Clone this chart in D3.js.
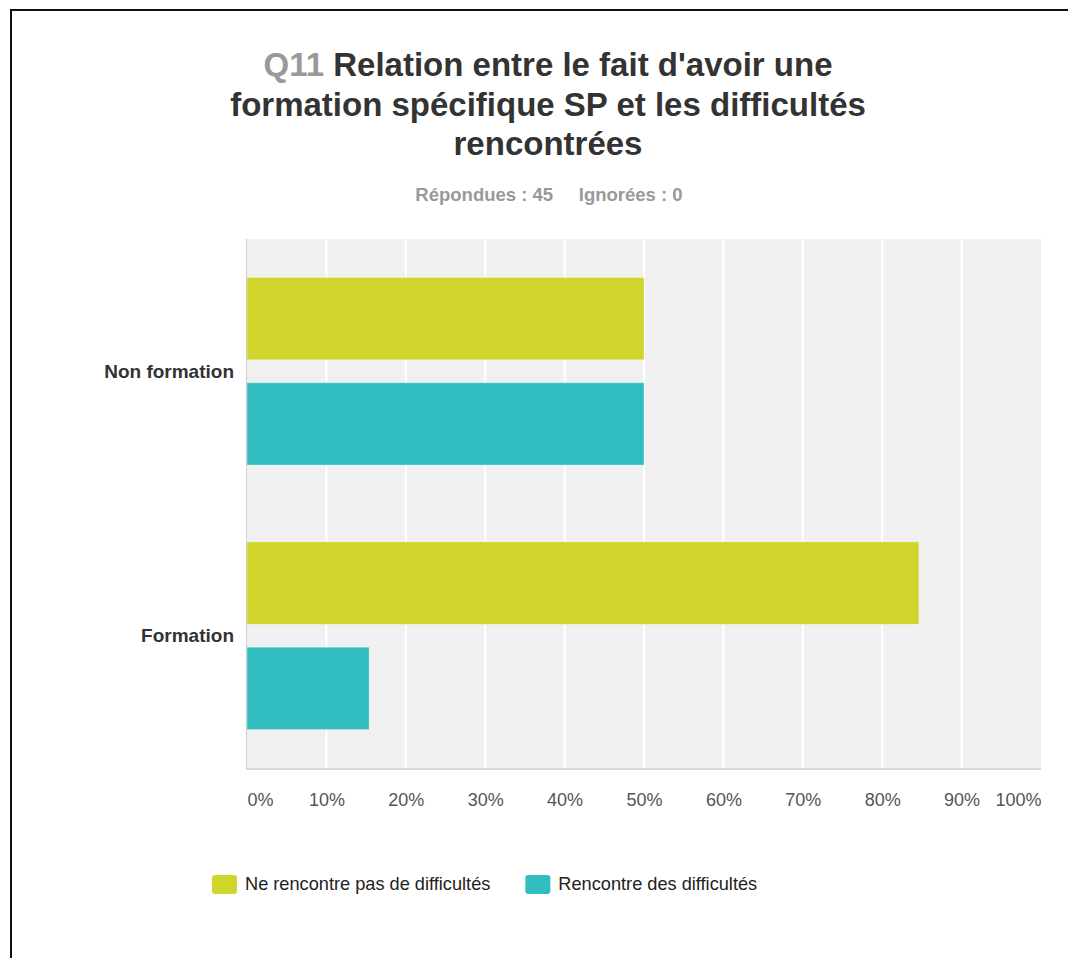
<!DOCTYPE html>
<html>
<head>
<meta charset="utf-8">
<script src="https://cdn.jsdelivr.net/npm/d3@7"></script>
<style>
  html, body { margin: 0; padding: 0; background: #fff; }
  svg { display: block; font-family: "Liberation Sans", Arial, sans-serif; }
</style>
</head>
<body>
<svg id="chart" width="1068" height="958"></svg>
<script>
// Survey question Q11: share of respondents per group
const categories = ["Non formation", "Formation"];
const seriesNames = ["Ne rencontre pas de difficultés", "Rencontre des difficultés"];
const noDifficulty = [50, 84.62];
const withDifficulty = [50, 15.38];
const tickValues = [0, 10, 20, 30, 40, 50, 60, 70, 80, 90, 100];
const tickLabels = ["0%", "10%", "20%", "30%", "40%", "50%", "60%", "70%", "80%", "90%", "100%"];
const colors = ["#cfd52a", "#32bec0"];

const svg = d3.select("#chart");
const W = 1068, H = 958;

// page frame (top and left edges)
svg.append("path")
  .attr("d", `M11,${H} L11,10 L${W},10`)
  .attr("fill", "none").attr("stroke", "#111").attr("stroke-width", 2);

// title, three lines, question number in grey
const titleLines = [
  [["Q11 ", "#999"], ["Relation entre le fait d'avoir une", "#333"]],
  [["formation spécifique SP et les difficultés", "#333"]],
  [["rencontrées", "#333"]]
];
const titleBase = [76, 115.5, 155];
titleLines.forEach((parts, i) => {
  const t = svg.append("text").attr("x", 548).attr("y", titleBase[i])
    .attr("text-anchor", "middle").attr("font-weight", "bold").attr("font-size", 33);
  parts.forEach(p => t.append("tspan").attr("fill", p[1]).text(p[0]));
});

// subtitle
svg.append("text").attr("x", 549).attr("y", 201).attr("text-anchor", "middle")
  .attr("font-weight", "bold").attr("font-size", 18.5).attr("fill", "#999")
  .attr("xml:space", "preserve")
  .text("Répondues : 45     Ignorées : 0");

// plot area
const plotLeft = 247, plotRight = 1041, plotTop = 239, plotBottom = 768;
const x = d3.scaleLinear().domain([0, 100]).range([plotLeft, plotRight]);
const y = d3.scaleBand().domain(categories).range([plotTop, plotBottom]);
const yInner = d3.scaleBand().domain(seriesNames).range([0, y.bandwidth()])
  .paddingInner(0.218).paddingOuter(0.365);

svg.append("rect").attr("x", plotLeft).attr("y", plotTop)
  .attr("width", plotRight - plotLeft).attr("height", plotBottom - plotTop).attr("fill", "#f0f0f0");

// vertical gridlines
svg.append("g").selectAll("line").data(tickValues.filter(v => v > 0 && v < 100)).join("line")
  .attr("x1", d => x(d)).attr("x2", d => x(d))
  .attr("y1", plotTop).attr("y2", plotBottom)
  .attr("stroke", "#fff").attr("stroke-width", 2);

// bars
const rows = categories.map((c, i) => ({ cat: c, values: [noDifficulty[i], withDifficulty[i]] }));
const groups = svg.append("g").selectAll("g").data(rows).join("g")
  .attr("transform", d => `translate(0,${y(d.cat)})`);
groups.selectAll("rect").data(d => d.values.map((v, j) => ({ v, s: seriesNames[j], j }))).join("rect")
  .attr("x", x(0)).attr("y", d => yInner(d.s))
  .attr("width", d => x(d.v) - x(0)).attr("height", yInner.bandwidth())
  .attr("fill", d => colors[d.j])
  .attr("stroke", "rgba(255,255,255,0.35)").attr("stroke-width", 1);

// axis lines
svg.append("line").attr("x1", plotLeft - 0.5).attr("x2", plotLeft - 0.5)
  .attr("y1", plotTop).attr("y2", plotBottom)
  .attr("stroke", "#cfcfcf").attr("stroke-width", 1);
svg.append("line").attr("x1", plotLeft - 1).attr("x2", plotRight)
  .attr("y1", plotBottom + 1).attr("y2", plotBottom + 1)
  .attr("stroke", "#d9d9d9").attr("stroke-width", 2);

// x axis labels
const xAxis = d3.axisBottom(x).tickValues(tickValues)
  .tickFormat((d, i) => tickLabels[i]).tickSize(0).tickPadding(0);
const gx = svg.append("g").attr("transform", `translate(0,${plotBottom})`).call(xAxis);
gx.select(".domain").remove();
gx.selectAll("text")
  .attr("y", 38).attr("dy", 0)
  .attr("font-size", 18).attr("fill", "#555")
  .attr("font-family", "Liberation Sans, Arial, sans-serif")
  .attr("text-anchor", d => d === 0 ? "start" : d === 100 ? "end" : "middle");

// category labels
svg.append("g").selectAll("text").data(categories).join("text")
  .attr("x", 234).attr("y", d => y(d) + y.bandwidth() / 2 + 6.5)
  .attr("text-anchor", "end").attr("font-weight", "bold").attr("font-size", 19)
  .attr("fill", "#333").text(d => d);

// legend
const legend = svg.append("g");
let lx = 212;
seriesNames.forEach((name, i) => {
  legend.append("rect").attr("x", lx).attr("y", 875).attr("width", 25).attr("height", 19)
    .attr("rx", 3).attr("fill", colors[i]);
  const t = legend.append("text").attr("x", lx + 33).attr("y", 889.5)
    .attr("font-size", 18.2).attr("fill", "#222").text(name);
  lx = lx + 33 + t.node().getComputedTextLength() + 35;
});
</script>
</body>
</html>
